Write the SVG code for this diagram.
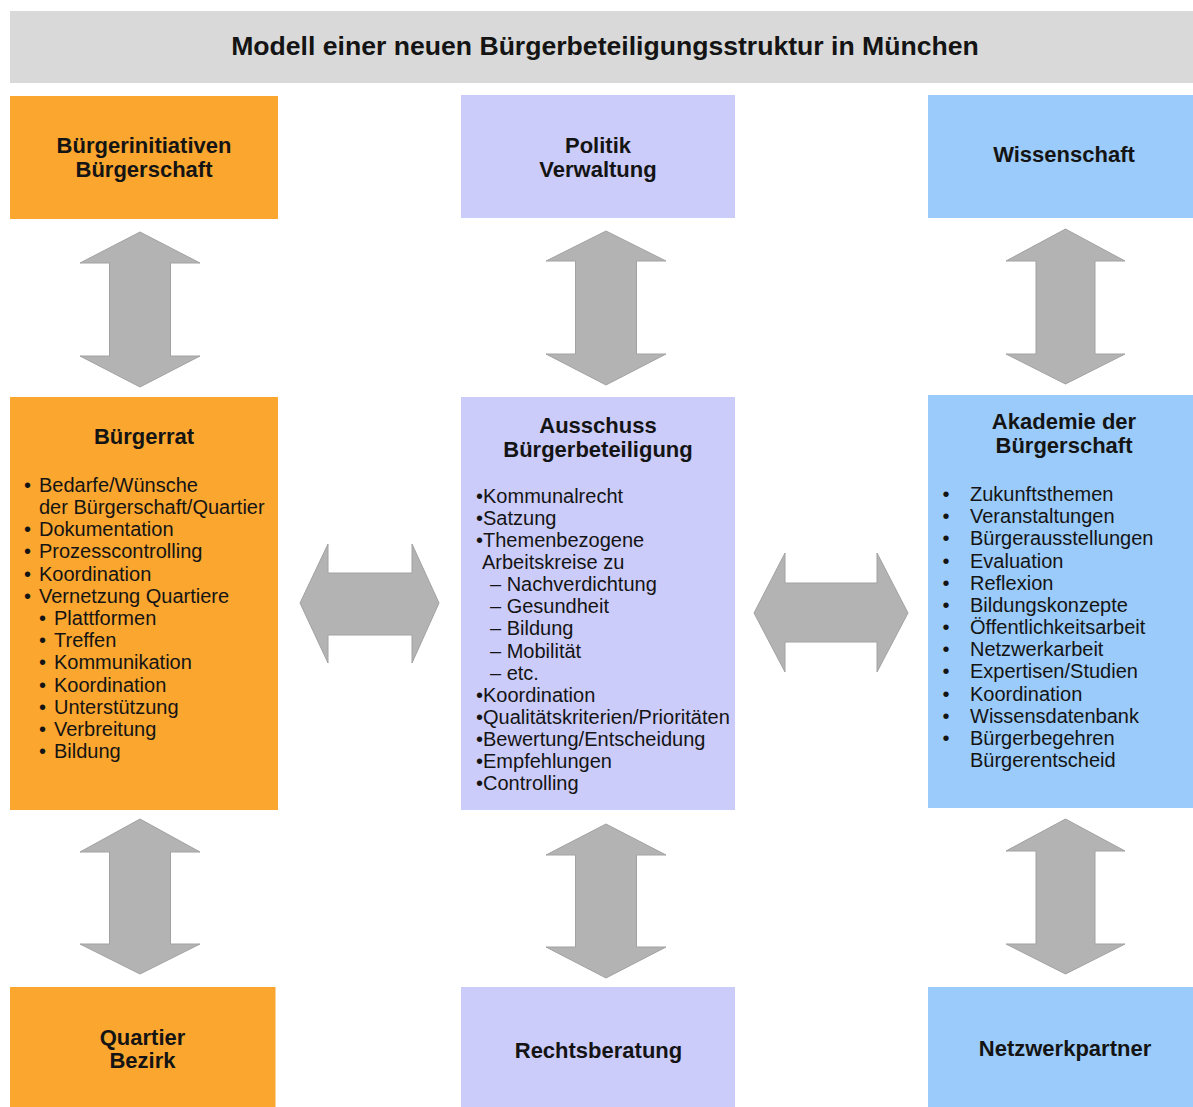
<svg xmlns="http://www.w3.org/2000/svg" width="1193" height="1107" viewBox="0 0 1193 1107">
<style>
  .t{font-family:"Liberation Sans",Arial,sans-serif;fill:#141414}
  .h{font-weight:bold;font-size:22px;text-anchor:middle}
  .title{font-weight:bold;font-size:26.6px;text-anchor:middle}
  .b{font-size:20px}
  .bm{font-size:20px;text-anchor:middle}
  .or{fill:#FAA62F}
  .lv{fill:#CCCCFA}
  .bl{fill:#9BCBFA}
  .arr{fill:#B3B3B3;stroke:#A2A2A2;stroke-width:1}
</style>
<rect width="1193" height="1107" fill="#ffffff"/>
<g id="title">
  <rect x="10" y="11" width="1183" height="72" fill="#D9D9D9"/>
  <text class="t title" x="605" y="55">Modell einer neuen Bürgerbeteiligungsstruktur in München</text>
</g>
<g id="buergerinitiativen">
  <rect class="or" x="10" y="96" width="268" height="123"/>
  <text class="t h" x="144" y="153">Bürgerinitiativen</text>
  <text class="t h" x="144" y="177">Bürgerschaft</text>
</g>
<g id="politik">
  <rect class="lv" x="461" y="95" width="274" height="123"/>
  <text class="t h" x="598" y="153">Politik</text>
  <text class="t h" x="598" y="177">Verwaltung</text>
</g>
<g id="wissenschaft">
  <rect class="bl" x="928" y="95" width="265" height="123"/>
  <text class="t h" x="1064" y="162">Wissenschaft</text>
</g>
<g id="buergerrat">
  <rect class="or" x="10" y="397" width="268" height="413"/>
  <text class="t h" x="144" y="444">Bürgerrat</text>
  <g class="t bm">
    <text x="27.5" y="492">•</text>
    <text x="27.5" y="536">•</text>
    <text x="27.5" y="558">•</text>
    <text x="27.5" y="580.5">•</text>
    <text x="27.5" y="602.5">•</text>
    <text x="42.5" y="625">•</text>
    <text x="42.5" y="647">•</text>
    <text x="42.5" y="669">•</text>
    <text x="42.5" y="691.5">•</text>
    <text x="42.5" y="713.5">•</text>
    <text x="42.5" y="736">•</text>
    <text x="42.5" y="758">•</text>
  </g>
  <g class="t b">
    <text x="39" y="492">Bedarfe/Wünsche</text>
    <text x="39" y="514">der Bürgerschaft/Quartier</text>
    <text x="39" y="536">Dokumentation</text>
    <text x="39" y="558">Prozesscontrolling</text>
    <text x="39" y="580.5">Koordination</text>
    <text x="39" y="602.5">Vernetzung Quartiere</text>
    <text x="54" y="625">Plattformen</text>
    <text x="54" y="647">Treffen</text>
    <text x="54" y="669">Kommunikation</text>
    <text x="54" y="691.5">Koordination</text>
    <text x="54" y="713.5">Unterstützung</text>
    <text x="54" y="736">Verbreitung</text>
    <text x="54" y="758">Bildung</text>
  </g>
</g>
<g id="ausschuss">
  <rect class="lv" x="461" y="397" width="274" height="413"/>
  <text class="t h" x="598" y="433">Ausschuss</text>
  <text class="t h" x="598" y="457">Bürgerbeteiligung</text>
  <g class="t b">
    <text x="476" y="503">•Kommunalrecht</text>
    <text x="476" y="525">•Satzung</text>
    <text x="476" y="547">•Themenbezogene</text>
    <text x="482" y="569">Arbeitskreise zu</text>
    <text x="490" y="591">– Nachverdichtung</text>
    <text x="490" y="613">– Gesundheit</text>
    <text x="490" y="635">– Bildung</text>
    <text x="490" y="657.5">– Mobilität</text>
    <text x="490" y="679.5">– etc.</text>
    <text x="476" y="701.5">•Koordination</text>
    <text x="476" y="723.5">•Qualitätskriterien/Prioritäten</text>
    <text x="476" y="746">•Bewertung/Entscheidung</text>
    <text x="476" y="768">•Empfehlungen</text>
    <text x="476" y="789.5">•Controlling</text>
  </g>
</g>
<g id="akademie">
  <rect class="bl" x="928" y="395" width="265" height="413"/>
  <text class="t h" x="1064" y="429">Akademie der</text>
  <text class="t h" x="1064" y="453">Bürgerschaft</text>
  <g class="t bm">
    <text x="946" y="501">•</text>
    <text x="946" y="523">•</text>
    <text x="946" y="545.3">•</text>
    <text x="946" y="567.5">•</text>
    <text x="946" y="589.7">•</text>
    <text x="946" y="611.8">•</text>
    <text x="946" y="634">•</text>
    <text x="946" y="656.2">•</text>
    <text x="946" y="678.4">•</text>
    <text x="946" y="700.5">•</text>
    <text x="946" y="722.7">•</text>
    <text x="946" y="744.8">•</text>
  </g>
  <g class="t b">
    <text x="970" y="501">Zukunftsthemen</text>
    <text x="970" y="523">Veranstaltungen</text>
    <text x="970" y="545.3">Bürgerausstellungen</text>
    <text x="970" y="567.5">Evaluation</text>
    <text x="970" y="589.7">Reflexion</text>
    <text x="970" y="611.8">Bildungskonzepte</text>
    <text x="970" y="634">Öffentlichkeitsarbeit</text>
    <text x="970" y="656.2">Netzwerkarbeit</text>
    <text x="970" y="678.4">Expertisen/Studien</text>
    <text x="970" y="700.5">Koordination</text>
    <text x="970" y="722.7">Wissensdatenbank</text>
    <text x="970" y="744.8">Bürgerbegehren</text>
    <text x="970" y="767">Bürgerentscheid</text>
  </g>
</g>
<g id="quartier">
  <rect class="or" x="10" y="987" width="265.5" height="120"/>
  <text class="t h" x="142.5" y="1045">Quartier</text>
  <text class="t h" x="142.5" y="1068">Bezirk</text>
</g>
<g id="rechtsberatung">
  <rect class="lv" x="461" y="987" width="274" height="120"/>
  <text class="t h" x="598.5" y="1058">Rechtsberatung</text>
</g>
<g id="netzwerkpartner">
  <rect class="bl" x="928" y="987" width="265" height="120"/>
  <text class="t h" x="1065" y="1056">Netzwerkpartner</text>
</g>
<g id="connectors">
  <path class="arr" d="M140,232 L200,263 L170.5,263 L170.5,356 L200,356 L140,387 L80,356 L109.5,356 L109.5,263 L80,263 Z"/>
  <path class="arr" d="M606,231 L666,261 L636.5,261 L636.5,354 L666,354 L606,385 L546,354 L575.5,354 L575.5,261 L546,261 Z"/>
  <path class="arr" d="M1065.5,229 L1125,261 L1095,261 L1095,354 L1125,354 L1065.5,384 L1006,354 L1036,354 L1036,261 L1006,261 Z"/>
  <path class="arr" d="M300,603 L328,544 L328,573 L412,573 L412,544 L439,603 L412,663 L412,635 L328,635 L328,663 Z"/>
  <path class="arr" d="M754,613 L785,553 L785,583 L877,583 L877,553 L908,613 L877,672 L877,642 L785,642 L785,672 Z"/>
  <path class="arr" d="M140,819 L200,852 L170.5,852 L170.5,944 L200,944 L140,974 L80,944 L109.5,944 L109.5,852 L80,852 Z"/>
  <path class="arr" d="M606,824 L666,855 L636.5,855 L636.5,947 L666,947 L606,978 L546,947 L575.5,947 L575.5,855 L546,855 Z"/>
  <path class="arr" d="M1065.5,819 L1125,851 L1095,851 L1095,944 L1125,944 L1065.5,974 L1006,944 L1036,944 L1036,851 L1006,851 Z"/>
</g>
</svg>
